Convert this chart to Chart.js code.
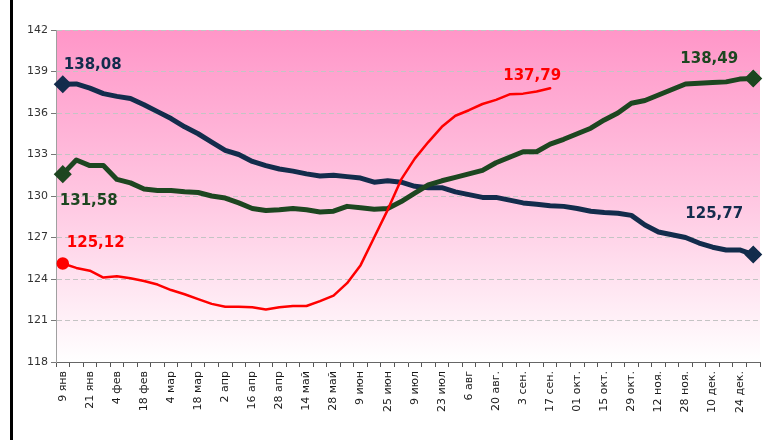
<!DOCTYPE html>
<html>
<head>
<meta charset="utf-8">
<script src="https://cdn.jsdelivr.net/npm/chart.js@4/dist/chart.umd.min.js"></script>
<style>
html,body{margin:0;padding:0;background:#fff;}
#wrap{width:764px;height:440px;position:relative;}
</style>
</head>
<body>
<div id="wrap"><canvas id="c" width="764" height="440"></canvas></div>
<script>
// Weekly categories; every second week is labelled
const weekLabels = [
 '9 янв','', '21 янв','', '4 фев','', '18 фев','', '4 мар','', '18 мар','', '2 апр','',
 '16 апр','', '28 апр','', '14 май','', '28 май','', '9 июн','', '25 июн','', '9 июл','',
 '23 июл','', '6 авг','', '20 авг.','', '3 сен.','', '17 сен.','', '01 окт.','', '15 окт.','',
 '29 окт.','', '12 ноя.','', '28 ноя.','', '10 дек.','', '24 дек.',''
];
const navySeries = [
 138.08,138.1,137.8,137.4,137.2,137.05,136.6,136.1,135.6,135.0,134.5,133.9,133.3,133.0,
 132.5,132.2,131.95,131.8,131.6,131.45,131.5,131.4,131.3,131.0,131.1,131.0,130.7,130.6,
 130.6,130.3,130.1,129.9,129.9,129.7,129.5,129.4,129.3,129.25,129.1,128.9,128.8,128.75,
 128.6,127.9,127.4,127.2,127.0,126.6,126.3,126.1,126.1,125.77
];
const greenSeries = [
 131.58,132.6,132.2,132.2,131.2,130.95,130.5,130.4,130.4,130.3,130.25,130.0,129.85,129.5,
 129.1,128.95,129.0,129.1,129.0,128.85,128.9,129.25,129.15,129.05,129.1,129.6,130.2,130.8,
 131.1,131.35,131.6,131.85,132.4,132.8,133.2,133.2,133.75,134.1,134.5,134.9,135.5,136.0,
 136.7,136.9,137.3,137.7,138.1,138.15,138.2,138.25,138.45,138.49
];
const redSeries = [
 125.12,124.8,124.6,124.1,124.2,124.05,123.85,123.6,123.2,122.9,122.55,122.2,122.0,122.0,
 121.95,121.8,121.95,122.05,122.05,122.4,122.8,123.7,125.0,127.0,129.0,131.2,132.7,133.9,
 135.0,135.8,136.2,136.65,136.95,137.35,137.4,137.55,137.79
];
const yTicks = [118,121,124,127,130,133,136,139,142];

const NAVY = '#132c4c', GREEN = '#1d4620', RED = '#ff0000';

function endpointRadius(r){
  return ctx => (ctx.dataIndex === 0 || ctx.dataIndex === ctx.dataset.data.length - 1) ? r : 0;
}

const bgPlugin = {
  id: 'bg',
  beforeDraw(chart){
    const {ctx, chartArea:a} = chart;
    ctx.save();
    ctx.fillStyle = '#000';
    ctx.fillRect(10, 0, 3, chart.height);
    const g = ctx.createLinearGradient(0, a.top, 0, a.bottom);
    g.addColorStop(0, '#ff96c8');
    g.addColorStop(0.5, '#ffc6e1');
    g.addColorStop(1, '#ffffff');
    ctx.fillStyle = g;
    ctx.fillRect(a.left, a.top, a.right - a.left, a.bottom - a.top);
    ctx.restore();
  }
};

// value labels at the series ends: [datasetIndex, pointIndex, text, color, dx, dy, align]
const endLabels = [
  [2, 0, '138,08', NAVY, 1, -19, 'left'],
  [1, 0, '131,58', GREEN, -3, 27, 'left'],
  [0, 0, '125,12', RED, 4, -20, 'left'],
  [0, redSeries.length - 1, '137,79', RED, -18, -12, 'center'],
  [1, greenSeries.length - 1, '138,49', GREEN, -44, -19, 'center'],
  [2, navySeries.length - 1, '125,77', NAVY, -39, -40, 'center']
];
const labelPlugin = {
  id: 'endLabels',
  afterDatasetsDraw(chart){
    const ctx = chart.ctx;
    ctx.save();
    ctx.font = 'bold 15px "DejaVu Sans", Verdana, sans-serif';
    ctx.textBaseline = 'middle';
    endLabels.forEach(([ds, i, txt, col, dx, dy, al]) => {
      const pt = chart.getDatasetMeta(ds).data[i];
      ctx.fillStyle = col;
      ctx.textAlign = al;
      ctx.fillText(txt, pt.x + dx, pt.y + dy);
    });
    ctx.restore();
  }
};

new Chart(document.getElementById('c'), {
  type: 'line',
  data: {
    labels: weekLabels,
    datasets: [
      {data: redSeries, borderColor: RED, backgroundColor: RED, borderWidth: 2.5,
       pointRadius: ctx => ctx.dataIndex === 0 ? 5 : 0, pointStyle: 'circle', tension: 0},
      {data: greenSeries, borderColor: GREEN, backgroundColor: GREEN, borderWidth: 5,
       pointRadius: endpointRadius(5.5), pointStyle: 'rectRot', tension: 0},
      {data: navySeries, borderColor: NAVY, backgroundColor: NAVY, borderWidth: 5,
       pointRadius: endpointRadius(5.5), pointStyle: 'rectRot', tension: 0}
    ]
  },
  options: {
    responsive: false,
    animation: false,
    layout: {autoPadding: false, padding: {left: 14, right: 4, top: 30, bottom: 0}},
    plugins: {legend: {display: false}, tooltip: {enabled: false}},
    elements: {line: {borderJoinStyle: 'round', borderCapStyle: 'round'}, point: {borderWidth: 0}},
    scales: {
      x: {
        offset: true,
        grid: {display: true, drawOnChartArea: false, drawTicks: true, tickLength: 5,
               offset: true, tickColor: '#555'},
        border: {display: true, color: '#666', width: 1},
        ticks: {autoSkip: false, minRotation: 90, maxRotation: 90, padding: 4,
                color: '#1a1a1a', font: {family: '"DejaVu Sans", Verdana, sans-serif', size: 11}},
        afterFit(s){ s.height = 78; s.paddingLeft = 0; s.paddingRight = 0; }
      },
      y: {
        min: 118, max: 142,
        afterBuildTicks(s){ s.ticks = yTicks.map(v => ({value: v})); },
        grid: {color: '#c4c4c4', lineWidth: 1, drawTicks: true, tickLength: 5, tickColor: '#777'},
        border: {display: true, color: '#a0a0a0', width: 1, dash: [5, 3]},
        ticks: {color: '#333', padding: 3, font: {family: '"DejaVu Sans", Verdana, sans-serif', size: 11}},
        afterFit(s){ s.width = 42; s.paddingTop = 0; s.paddingBottom = 0; }
      }
    }
  },
  plugins: [bgPlugin, labelPlugin]
});
</script>
</body>
</html>
